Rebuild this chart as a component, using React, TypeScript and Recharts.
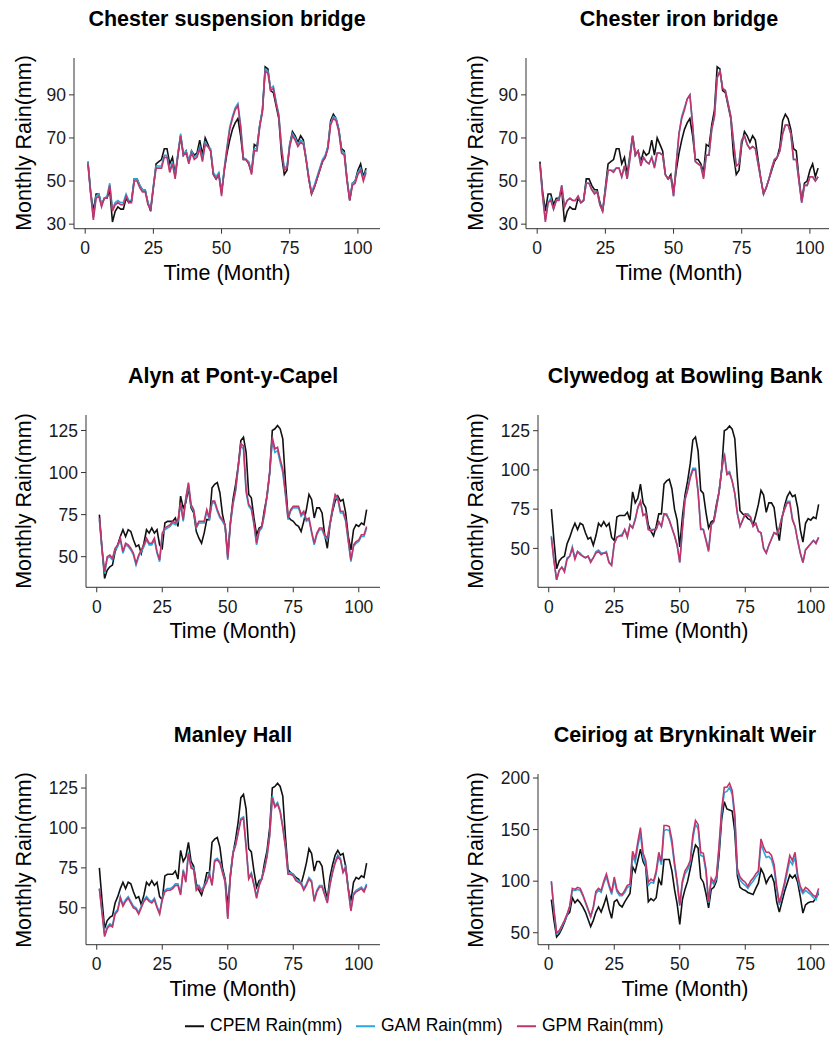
import React from 'react';
import { LineChart, Line, XAxis, YAxis } from 'recharts';

// month index shared by every gauge
const months = Array.from({ length: 103 }, (_, i) => i + 1);

const xTicks = [0, 25, 50, 75, 100];

// CPEM series (Chester gauges share one, the three Dee gauges share another)
const cpemChester = [
  59, 45, 36, 44, 44, 39, 42, 42, 46, 31,
  36, 38, 37, 37, 42, 40, 41, 51, 51, 48,
  46, 46, 40, 36, 47, 58, 59, 60, 65, 65,
  58, 61, 53, 62, 71, 62, 64, 59, 64, 62,
  63, 69, 62, 70, 67, 64, 53, 51, 53, 45,
  55, 63, 69, 74, 77, 79, 71, 60, 60, 58,
  54, 67, 66, 76, 83, 103, 102, 92, 91, 85,
  79, 62, 53, 55, 67, 73, 71, 68, 71, 69,
  60, 51, 44, 47, 51, 55, 59, 61, 66, 78,
  81, 79, 74, 65, 64, 51, 41, 49, 50, 55,
  58, 52, 56,
];

const gpmSuspension = [
  58, 44, 32, 42, 43, 38, 42, 42, 48, 36,
  39, 40, 39, 39, 43, 40, 40, 50, 50, 47,
  45, 45, 39, 37, 47, 56, 56, 56, 61, 61,
  54, 58, 51, 62, 71, 62, 63, 58, 63, 60,
  61, 65, 59, 67, 66, 64, 53, 51, 53, 43,
  55, 65, 74, 79, 83, 85, 75, 60, 60, 58,
  53, 64, 64, 75, 82, 101, 100, 92, 93, 86,
  80, 65, 55, 56, 66, 71, 69, 66, 68, 67,
  60, 51, 44, 47, 51, 55, 59, 61, 65, 76,
  79, 78, 73, 63, 62, 50, 41, 48, 49, 53,
  55, 50, 54,
];

const gamSuspension = [
  59, 45, 33, 43, 44, 39, 42, 43, 49, 37,
  40, 41, 40, 40, 44, 41, 41, 51, 51, 48,
  46, 46, 40, 37, 48, 57, 57, 57, 62, 62,
  55, 59, 52, 63, 72, 62, 64, 59, 64, 61,
  62, 66, 60, 68, 66, 65, 54, 52, 54, 44,
  56, 66, 75, 80, 84, 86, 76, 61, 60, 59,
  54, 65, 65, 76, 83, 102, 101, 93, 94, 87,
  81, 66, 56, 57, 67, 72, 70, 67, 69, 68,
  61, 52, 45, 48, 52, 56, 60, 62, 66, 77,
  80, 79, 74, 64, 63, 51, 42, 49, 50, 54,
  56, 51, 55,
];

const gpmIron = [
  58, 43, 31, 40, 41, 37, 41, 41, 48, 38,
  41, 42, 41, 41, 43, 40, 41, 49, 49, 46,
  44, 45, 39, 36, 45, 55, 55, 54, 56, 56,
  52, 57, 51, 60, 71, 62, 64, 57, 61, 59,
  58, 61, 56, 63, 63, 62, 53, 51, 52, 43,
  58, 72, 79, 83, 88, 90, 76, 59, 58, 57,
  51, 62, 62, 74, 80, 98, 101, 93, 92, 86,
  80, 68, 57, 58, 69, 71, 67, 65, 66, 65,
  58, 51, 44, 47, 51, 56, 60, 61, 64, 72,
  76, 76, 72, 60, 60, 50, 40, 48, 48, 52,
  52, 50, 52,
];

const gamIron = [
  58, 43, 32, 40, 42, 37, 41, 42, 48, 38,
  41, 42, 41, 41, 43, 40, 41, 49, 49, 46,
  45, 45, 39, 36, 46, 55, 55, 55, 56, 56,
  52, 57, 51, 61, 71, 62, 64, 58, 61, 59,
  58, 61, 57, 63, 63, 62, 53, 51, 52, 43,
  58, 72, 80, 84, 88, 90, 76, 59, 58, 57,
  52, 62, 62, 74, 80, 98, 101, 93, 92, 86,
  80, 68, 57, 58, 69, 71, 67, 65, 66, 65,
  58, 51, 44, 47, 51, 56, 60, 61, 64, 72,
  76, 76, 72, 60, 60, 50, 40, 48, 48, 52,
  52, 50, 52,
];

const cpemDee = [
  75, 55, 37, 42, 44, 45, 53, 57, 62, 66,
  62, 66, 65, 60, 56, 57, 52, 58, 66, 64,
  67, 64, 66, 57, 55, 70, 71, 71, 71, 73,
  68, 86, 79, 82, 91, 79, 76, 65, 61, 58,
  64, 72, 72, 91, 93, 94, 88, 75, 68, 51,
  70, 84, 93, 104, 119, 121, 112, 87, 85, 73,
  63, 67, 68, 78, 86, 100, 125, 126, 128, 126,
  120, 95, 74, 72, 71, 69, 68, 65, 71, 78,
  87, 84, 73, 79, 79, 76, 63, 55, 69, 77,
  83, 86, 83, 84, 76, 62, 54, 66, 69, 68,
  70, 69, 78,
];

const gpmAlyn = [
  73, 55, 41, 50, 51, 49, 55, 57, 61, 53,
  58, 57, 55, 52, 46, 51, 54, 57, 61, 58,
  58, 61, 53, 48, 64, 67, 68, 69, 71, 70,
  72, 82, 72, 85, 94, 81, 78, 68, 71, 71,
  71, 78, 73, 83, 83, 78, 74, 72, 69, 49,
  70, 82, 90, 104, 117, 116, 90, 81, 79, 70,
  58, 66, 68, 76, 87, 100, 121, 114, 115, 108,
  102, 88, 73, 78, 80, 80, 80, 75, 77, 72,
  73, 65, 58, 64, 67, 67, 63, 61, 70, 79,
  87, 85, 77, 77, 72, 60, 48, 57, 59, 60,
  63, 63, 68,
];

const gamAlyn = [
  72, 54, 40, 49, 50, 48, 54, 56, 60, 52,
  57, 56, 54, 51, 45, 50, 53, 56, 60, 57,
  57, 60, 52, 47, 63, 66, 67, 68, 70, 69,
  71, 81, 71, 84, 93, 80, 77, 67, 70, 70,
  70, 77, 72, 82, 82, 77, 73, 71, 68, 48,
  69, 81, 89, 103, 116, 114, 88, 80, 78, 69,
  57, 65, 67, 75, 86, 99, 119, 112, 113, 106,
  100, 87, 72, 77, 79, 79, 79, 74, 76, 71,
  72, 64, 57, 63, 66, 66, 62, 60, 69, 78,
  86, 84, 76, 76, 71, 59, 47, 56, 58, 59,
  62, 62, 67,
];

const gpmClywedog = [
  57, 42, 30, 36, 38, 35, 43, 45, 50, 43,
  48, 46, 45, 44, 45, 41, 44, 47, 48, 46,
  47, 47, 41, 39, 53, 57, 58, 58, 62, 57,
  65, 63, 68, 76, 80, 71, 72, 62, 61, 62,
  62, 67, 64, 72, 71, 68, 63, 58, 52, 41,
  62, 81, 87, 95, 100, 100, 86, 62, 62, 55,
  48, 65, 67, 76, 86, 100, 110, 97, 98, 93,
  85, 72, 64, 68, 72, 71, 70, 64, 66, 61,
  60, 50, 47, 52, 56, 60, 59, 63, 70, 75,
  79, 79, 68, 64, 55, 47, 41, 49, 51, 53,
  55, 53, 57,
];

const gamClywedog = [
  58, 42, 30, 36, 38, 36, 44, 45, 51, 44,
  48, 47, 45, 44, 45, 42, 44, 48, 49, 47,
  47, 48, 41, 40, 53, 57, 58, 59, 62, 58,
  65, 63, 69, 76, 80, 71, 72, 62, 62, 62,
  62, 67, 64, 72, 72, 68, 63, 58, 52, 41,
  62, 81, 88, 96, 101, 101, 86, 63, 62, 56,
  49, 65, 67, 76, 86, 100, 111, 98, 99, 93,
  85, 72, 64, 68, 72, 72, 70, 64, 66, 61,
  60, 50, 47, 52, 56, 60, 59, 63, 70, 75,
  80, 80, 69, 64, 55, 47, 41, 49, 51, 53,
  55, 54, 57,
];

const gpmManley = [
  62, 47, 32, 37, 39, 38, 46, 48, 56, 51,
  54, 56, 53, 50, 49, 46, 50, 54, 56, 54,
  53, 55, 50, 46, 55, 60, 61, 61, 62, 64,
  64, 58, 73, 66, 84, 75, 74, 61, 63, 60,
  63, 66, 71, 64, 79, 80, 78, 72, 66, 43,
  70, 84, 89, 97, 105, 106, 88, 68, 71, 64,
  56, 64, 68, 74, 82, 95, 119, 113, 115, 110,
  100, 88, 71, 71, 70, 67, 66, 65, 61, 64,
  68, 66, 54, 60, 63, 63, 58, 53, 64, 72,
  78, 82, 80, 72, 75, 61, 48, 58, 60, 61,
  62, 60, 64,
];

const gamManley = [
  62, 48, 33, 38, 40, 39, 47, 49, 57, 52,
  55, 57, 54, 51, 50, 47, 51, 55, 57, 55,
  54, 56, 51, 47, 56, 61, 62, 62, 63, 65,
  65, 59, 74, 67, 85, 76, 75, 62, 64, 61,
  64, 67, 72, 65, 80, 81, 79, 73, 67, 44,
  71, 85, 90, 98, 106, 107, 89, 69, 72, 65,
  57, 65, 69, 75, 83, 96, 120, 114, 116, 111,
  101, 89, 72, 72, 71, 68, 67, 66, 62, 65,
  69, 67, 55, 61, 64, 64, 59, 54, 65, 73,
  79, 83, 81, 73, 76, 62, 49, 59, 61, 62,
  63, 61, 65,
];

const cpemCeiriog = [
  82, 62, 46, 49, 54, 60, 67, 70, 84, 79,
  82, 79, 75, 70, 63, 56, 62, 70, 75, 70,
  77, 85, 73, 64, 80, 82, 77, 75, 80, 84,
  88, 114, 109, 120, 131, 119, 114, 80, 83, 81,
  84, 102, 96, 121, 121, 121, 110, 92, 78, 58,
  82, 92, 100, 112, 125, 135, 132, 103, 99, 88,
  74, 92, 94, 100, 125, 160, 177, 170, 169, 168,
  148, 105, 94, 92, 91, 89, 88, 87, 93, 98,
  112, 107, 98, 103, 106, 99, 80, 70, 80, 90,
  98, 106, 103, 106, 99, 85, 69, 77, 79, 80,
  80, 84, 88,
];

const gpmCeiriog = [
  100, 72, 50, 52, 57, 62, 68, 76, 93, 92,
  94, 93, 87, 80, 73, 66, 75, 90, 93, 91,
  100, 107, 97, 89, 104, 92, 88, 87, 91, 96,
  97, 129, 122, 138, 152, 127, 120, 99, 102, 100,
  110, 128, 119, 154, 154, 153, 140, 118, 100, 77,
  100, 110, 114, 120, 145, 159, 155, 128, 127, 112,
  80, 103, 99, 105, 135, 170, 191, 191, 195, 188,
  165, 112, 104, 101, 99, 95, 100, 103, 107, 110,
  141, 133, 128, 128, 125, 116, 95, 79, 88, 99,
  112, 125, 120, 128, 106, 95, 90, 94, 92, 89,
  86, 85, 93,
];

const gamCeiriog = [
  99, 71, 49, 51, 56, 61, 67, 75, 91, 91,
  92, 91, 86, 79, 72, 65, 74, 88, 91, 89,
  98, 104, 95, 87, 101, 90, 86, 86, 89, 94,
  95, 125, 118, 134, 146, 123, 116, 96, 99, 98,
  107, 124, 116, 149, 150, 149, 136, 115, 98, 76,
  98, 107, 111, 117, 141, 155, 151, 125, 124, 109,
  79, 100, 97, 102, 131, 166, 186, 187, 191, 184,
  161, 109, 101, 98, 96, 93, 97, 100, 104, 107,
  136, 129, 123, 124, 121, 112, 92, 77, 86, 96,
  108, 120, 116, 123, 103, 92, 88, 91, 89, 87,
  84, 82, 90,
];

const COLORS = { cpem: '#111111', gam: '#29a8df', gpm: '#c0356b' };
const FONT = '"Liberation Sans", Arial, Helvetica, sans-serif';

const Y_AXIS_W = 60;
const X_AXIS_H = 40;
const PAD_T = 8;
const PAD_R = 8;

const panels = [
  {
    title: 'Chester suspension bridge', cpem: cpemChester, gam: gamSuspension, gpm: gpmSuspension,
    domain: [27.9, 107.1], ticks: [30, 50, 70, 90],
    box: { left: 74, right: 380, top: 58, bottom: 228.7 }, labelX: 25,
  },
  {
    title: 'Chester iron bridge', cpem: cpemChester, gam: gamIron, gpm: gpmIron,
    domain: [27.9, 107.1], ticks: [30, 50, 70, 90],
    box: { left: 526, right: 832, top: 58, bottom: 228.7 }, labelX: 477,
  },
  {
    title: 'Alyn at Pont-y-Capel', cpem: cpemDee, gam: gamAlyn, gpm: gpmAlyn,
    domain: [31.8, 134.2], ticks: [50, 75, 100, 125],
    box: { left: 86, right: 380, top: 415, bottom: 587.3 }, labelX: 25,
  },
  {
    title: 'Clywedog at Bowling Bank', cpem: cpemDee, gam: gamClywedog, gpm: gpmClywedog,
    domain: [25.2, 135], ticks: [50, 75, 100, 125],
    box: { left: 538, right: 832, top: 415, bottom: 587.3 }, labelX: 477,
  },
  {
    title: 'Manley Hall', cpem: cpemDee, gam: gamManley, gpm: gpmManley,
    domain: [26.9, 133.8], ticks: [50, 75, 100, 125],
    box: { left: 86, right: 380, top: 774.3, bottom: 945 }, labelX: 25,
  },
  {
    title: 'Ceiriog at Brynkinalt Weir', cpem: cpemCeiriog, gam: gamCeiriog, gpm: gpmCeiriog,
    domain: [38.4, 203.9], ticks: [50, 100, 150, 200],
    box: { left: 538, right: 832, top: 774.3, bottom: 945 }, labelX: 477,
  },
];

const tickStyle = { fill: '#1a1a1a', fontSize: 17.5, fontFamily: FONT };

const centered: React.CSSProperties = {
  position: 'absolute',
  transform: 'translate(-50%, -50%)',
  whiteSpace: 'nowrap',
  lineHeight: 1,
  color: '#000',
};

function Panel({ p }: { p: (typeof panels)[number] }) {
  const { box } = p;
  const w = box.right - box.left;
  const h = box.bottom - box.top;
  const rows = months.map((m, i) => ({ month: m, cpem: p.cpem[i], gam: p.gam[i], gpm: p.gpm[i] }));
  const cx = (box.left + box.right) / 2;

  return (
    <>
      <div style={{ position: 'absolute', left: box.left - Y_AXIS_W, top: box.top - PAD_T }}>
        <LineChart
          width={w + Y_AXIS_W + PAD_R}
          height={h + PAD_T + X_AXIS_H}
          data={rows}
          margin={{ top: PAD_T, right: PAD_R, bottom: 0, left: 0 }}
        >
          <XAxis
            dataKey="month"
            type="number"
            domain={[-4.1, 108.1]}
            ticks={xTicks}
            interval={0}
            allowDataOverflow
            height={X_AXIS_H}
            tickSize={5}
            tickMargin={8}
            stroke="#333"
            tick={tickStyle}
          />
          <YAxis
            type="number"
            domain={p.domain}
            ticks={p.ticks}
            interval={0}
            allowDataOverflow
            width={Y_AXIS_W}
            tickSize={5}
            tickMargin={3}
            stroke="#333"
            tick={tickStyle}
          />
          <Line type="linear" dataKey="cpem" stroke={COLORS.cpem} strokeWidth={1.6} dot={false} isAnimationActive={false} />
          <Line type="linear" dataKey="gam" stroke={COLORS.gam} strokeWidth={1.6} dot={false} isAnimationActive={false} />
          <Line type="linear" dataKey="gpm" stroke={COLORS.gpm} strokeWidth={1.6} dot={false} isAnimationActive={false} />
        </LineChart>
      </div>
      <div style={{ ...centered, left: cx, top: box.top - 38, fontSize: 21.5, fontWeight: 'bold' }}>{p.title}</div>
      <div style={{ ...centered, left: cx, top: box.bottom + 45, fontSize: 21.5 }}>Time (Month)</div>
      <div
        style={{
          ...centered,
          left: p.labelX,
          top: (box.top + box.bottom) / 2,
          fontSize: 21.5,
          transform: 'translate(-50%, -50%) rotate(-90deg)',
        }}
      >
        Monthly Rain(mm)
      </div>
    </>
  );
}

const legendItems = [
  { label: 'CPEM Rain(mm)', color: COLORS.cpem, x: 185 },
  { label: 'GAM Rain(mm)', color: COLORS.gam, x: 356 },
  { label: 'GPM Rain(mm)', color: COLORS.gpm, x: 517 },
];

export default function App() {
  return (
    <div
      style={{
        position: 'absolute',
        left: 0,
        top: 0,
        width: 829,
        height: 1039,
        overflow: 'hidden',
        background: '#fff',
        fontFamily: FONT,
      }}
    >
      {panels.map((p) => (
        <Panel key={p.title} p={p} />
      ))}
      {legendItems.map((it) => (
        <div
          key={it.label}
          style={{ position: 'absolute', left: it.x, top: 1026, transform: 'translateY(-50%)', display: 'flex', alignItems: 'center', lineHeight: 1 }}
        >
          <span style={{ display: 'inline-block', width: 19, height: 2, background: it.color, marginRight: 6 }} />
          <span style={{ fontSize: 17.5, color: '#000', whiteSpace: 'nowrap' }}>{it.label}</span>
        </div>
      ))}
    </div>
  );
}
